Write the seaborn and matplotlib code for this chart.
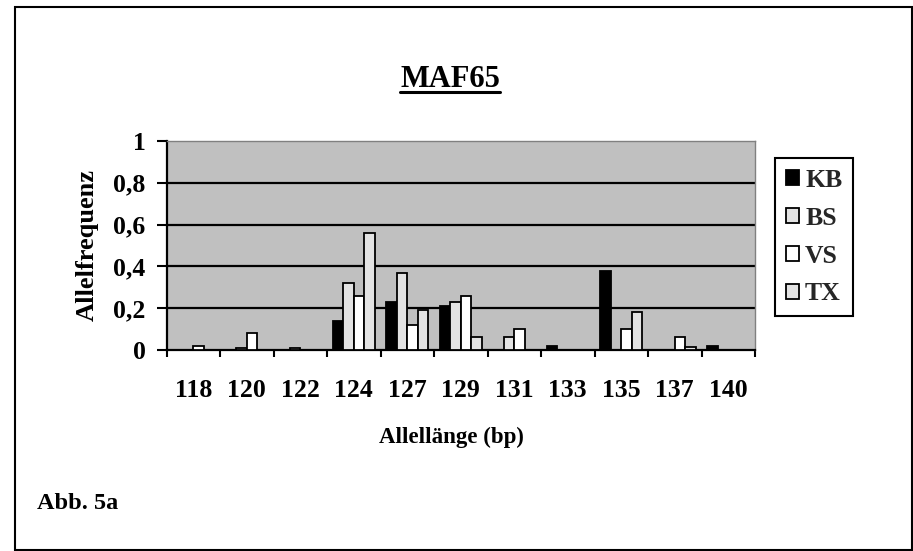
import numpy as np
import pandas as pd
import matplotlib
matplotlib.use("Agg")
import matplotlib.pyplot as plt
from matplotlib.lines import Line2D
from matplotlib.patches import Rectangle
import seaborn as sns

# ---- data ----
alleles = ["118", "120", "122", "124", "127", "129", "131", "133", "135", "137", "140"]
populations = ["KB", "BS", "VS", "TX"]
kb = [0.00, 0.00, 0.00, 0.14, 0.23, 0.21, 0.00, 0.02, 0.38, 0.00, 0.02]
bs = [0.00, 0.01, 0.01, 0.32, 0.37, 0.23, 0.06, 0.00, 0.00, 0.00, 0.00]
vs = [0.02, 0.08, 0.00, 0.26, 0.12, 0.26, 0.10, 0.00, 0.10, 0.06, 0.00]
tx = [0.00, 0.00, 0.00, 0.56, 0.19, 0.06, 0.00, 0.00, 0.18, 0.015, 0.00]
yticks = [0, 0.2, 0.4, 0.6, 0.8, 1.0]
title = "MAF65"
xlabel = "Allellänge (bp)"
ylabel = "Allelfrequenz"
note = "Abb. 5a"

series = {"KB": kb, "BS": bs, "VS": vs, "TX": tx}
rows = []
for p in populations:
    for a, v in zip(alleles, series[p]):
        rows.append({"Allel": a, "Freq": v, "Pop": p})
df = pd.DataFrame(rows)

colors = {"KB": "#000000", "BS": "#E3E3E3", "VS": "#FFFFFF", "TX": "#E3E3E3"}

sns.set_theme(style="white")
plt.rcParams["font.family"] = ["Liberation Serif", "DejaVu Serif"]
plt.rcParams["font.weight"] = "bold"

W, H = 913, 551
fig = plt.figure(figsize=(W / 100, H / 100), dpi=100)
fig.patch.set_facecolor("white")

def fx(px):
    return px / W

def fy(py):
    return 1 - py / H

ax = fig.add_axes([fx(166.5), fy(350), fx(755) - fx(166.5), fy(141) - fy(350)])
ax.set_facecolor("#C0C0C0")

sns.barplot(data=df, x="Allel", y="Freq", hue="Pop", order=alleles,
            hue_order=populations, palette=colors, edgecolor="black",
            linewidth=1.3, width=0.78, gap=0, errorbar=None, ax=ax, zorder=3)

ax.set_xlim(-0.5, len(alleles) - 0.5)
ax.set_ylim(0, 1)
ax.set_yticks(yticks)
ax.set_yticklabels([("%g" % t).replace(".", ",") for t in yticks])
ax.set_xticks(range(len(alleles)))
ax.set_xticklabels(alleles)
ax.set_xticks(np.arange(-0.5, len(alleles), 1), minor=True)
ax.tick_params(axis="x", which="major", length=0, pad=21, labelsize=18.5)
ax.tick_params(axis="x", which="minor", length=5, width=1.5, direction="out", color="black", bottom=True)
ax.tick_params(axis="y", which="major", length=7, width=1.5, direction="out", color="black",
               pad=8, labelsize=18.5, left=True)
for lab in ax.get_xticklabels() + ax.get_yticklabels():
    lab.set_fontweight("bold")
    lab.set_color("black")
ax.set_xlabel("")
ax.set_ylabel("")

for t in yticks[1:-1]:
    ax.axhline(t, color="black", lw=1.6, zorder=1)

for s in ["left", "bottom"]:
    ax.spines[s].set_color("black")
    ax.spines[s].set_linewidth(1.6)
for s in ["top", "right"]:
    ax.spines[s].set_color("#808080")
    ax.spines[s].set_linewidth(1.0)
    ax.spines[s].set_visible(True)

# legend
handles, labels = ax.get_legend_handles_labels()
if ax.get_legend() is not None:
    ax.get_legend().remove()
leg = fig.legend(handles, labels, loc="upper left", bbox_to_anchor=(fx(775), fy(158)),
                 bbox_transform=fig.transFigure, borderaxespad=0, frameon=True,
                 fancybox=False, edgecolor="black", framealpha=1,
                 prop={"family": "Liberation Serif", "weight": "bold", "size": 18.5},
                 handlelength=0.5, handleheight=0.55, handletextpad=0.25,
                 labelspacing=0.58, borderpad=0.42)
leg.get_frame().set_linewidth(1.5)

# texts
t = fig.text(fx(450), fy(87), title, ha="center", va="baseline", fontsize=22,
             fontweight="bold", color="black")
fig.text(fx(451), fy(437), xlabel, ha="center", va="center", fontsize=16.5,
         fontweight="bold", color="black")
fig.text(fx(87), fy(245), ylabel, ha="center", va="center", rotation=90,
         fontsize=19, fontweight="bold", color="black")
fig.text(fx(37), fy(509), note, ha="left", va="baseline", fontsize=17.5,
         fontweight="bold", color="black")

# underline title
fig.canvas.draw()
r = fig.canvas.get_renderer()
bb = t.get_window_extent(renderer=r)
x0, x1 = bb.x0 / W, bb.x1 / W
fig.add_artist(Line2D([x0, x1], [fy(92), fy(92)], transform=fig.transFigure,
                      color="black", lw=2.2))

# outer frame
fig.add_artist(Rectangle((fx(14.5), fy(550)), fx(911.5) - fx(14.5), fy(6.5) - fy(550),
                         transform=fig.transFigure, fill=False, edgecolor="black", lw=1.5))

fig.savefig("out.png", dpi=100, facecolor="white")
